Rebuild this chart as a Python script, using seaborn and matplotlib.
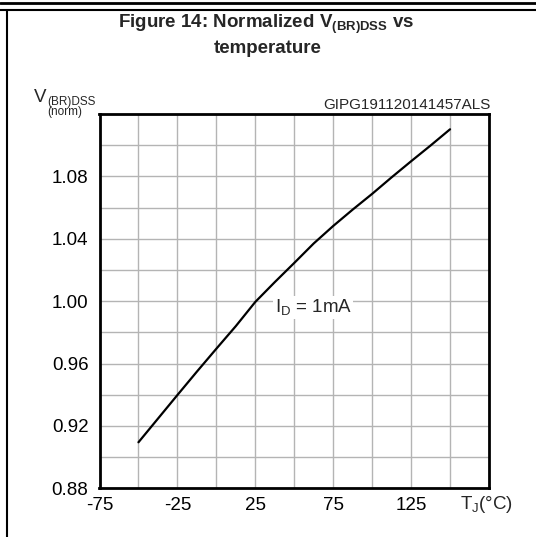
import numpy as np
import pandas as pd
import matplotlib
matplotlib.use("Agg")
import matplotlib.pyplot as plt
from matplotlib.lines import Line2D
import seaborn as sns

# values
temp_c = [-50, -25, -12.5, 0, 12.5, 25, 37.5, 50, 62.5, 75, 87.5, 100, 112.5, 125, 137.5, 150]
v_norm = [0.9095, 0.9398, 0.9548, 0.9695, 0.9840, 0.9995, 1.0122, 1.0245, 1.0370, 1.0482,
          1.0587, 1.0688, 1.0794, 1.0897, 1.0998, 1.1102]

x_ticks = [-75, -50, -25, 0, 25, 50, 75, 100, 125, 150, 175]
x_labels = ["-75", "", "-25", "", "25", "", "75", "", "125", "", ""]
y_ticks = [0.88, 0.90, 0.92, 0.94, 0.96, 0.98, 1.00, 1.02, 1.04, 1.06, 1.08, 1.10, 1.12]
y_labels = ["0.88", "", "0.92", "", "0.96", "", "1.00", "", "1.04", "", "1.08", "", ""]

df = pd.DataFrame({"T": temp_c, "V": v_norm})

sns.set_style("white")
plt.rcParams["font.family"] = ["Liberation Sans", "DejaVu Sans"]
plt.rcParams["mathtext.fontset"] = "custom"
plt.rcParams["mathtext.rm"] = "Liberation Sans"
plt.rcParams["mathtext.it"] = "Liberation Sans"
plt.rcParams["mathtext.bf"] = "Liberation Sans:bold"

W, H = 536, 537
fig = plt.figure(figsize=(W / 100, H / 100), dpi=100)


def px(x, y):
    return x / W, 1 - y / H


ax = fig.add_axes([99.5 / W, 1 - 488.3 / H, 389.5 / W, 374.3 / H])
sns.lineplot(data=df, x="T", y="V", ax=ax, color="black", linewidth=1.6, zorder=3)

ax.set_xlim(-75, 175)
ax.set_ylim(0.88, 1.12)
ax.set_xticks(x_ticks)
ax.set_xticklabels(x_labels)
ax.set_yticks(y_ticks)
ax.set_yticklabels(y_labels)
ax.tick_params(length=0, labelsize=13.5, colors="black")
ax.tick_params(axis="y", pad=8)
ax.tick_params(axis="x", pad=6)
ax.grid(True, color="#b4b4b4", linewidth=1.0)
ax.set_xlabel("")
ax.set_ylabel("")
for s in ax.spines.values():
    s.set_visible(True)
    s.set_color("black")
    s.set_linewidth(2.0)

ax.text(37.5, 0.996, r"I$_{\mathrm{D}}$ = 1mA", fontsize=13.5, va="center", ha="left", zorder=4,
        bbox=dict(facecolor="white", edgecolor="none", pad=1))

# page frame
fig.add_artist(Line2D([0, 1], [1 - 3 / H, 1 - 3 / H], color="black", linewidth=2.0))
fig.add_artist(Line2D([0, 1], [1 - 10 / H, 1 - 10 / H], color="black", linewidth=1.5))
fig.add_artist(Line2D([6.5 / W, 6.5 / W], [0, 1 - 10 / H], color="black", linewidth=1.5))

# title
fig.text(*px(266, 28), r"Figure 14: Normalized V$_{\mathbf{(BR)DSS}}$ vs", fontsize=13.5,
         fontweight="bold", ha="center", va="baseline")
fig.text(*px(268, 53), "temperature", fontsize=13.5, fontweight="bold", ha="center", va="baseline")

# y axis title
fig.text(*px(34, 102), "V", fontsize=13.5, ha="left", va="baseline")
fig.text(*px(47, 95.5), "(BR)DSS\n(norm)", fontsize=8.5, ha="left", va="top",
         linespacing=0.78)

fig.text(*px(491, 109), "GIPG191120141457ALS", fontsize=11, ha="right", va="baseline")

# x axis title
fig.text(*px(460, 509), r"T$_{\mathrm{J}}$(°C)", fontsize=13.5, ha="left", va="baseline")

fig.savefig("out.png", dpi=100)
